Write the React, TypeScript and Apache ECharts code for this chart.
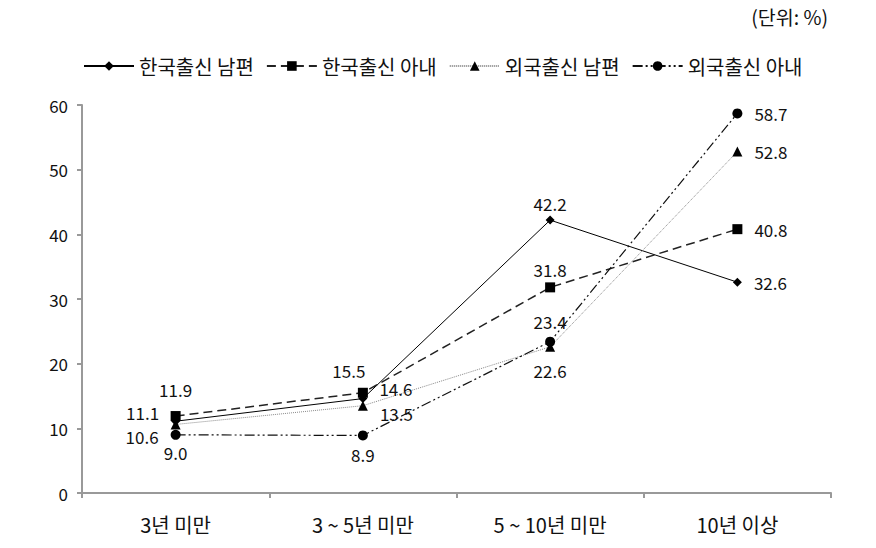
import React, { useEffect, useRef } from "react";
import * as echarts from "echarts";

const categories = ["3년 미만", "3 ~ 5년 미만", "5 ~ 10년 미만", "10년 이상"];
const seriesNames = ["한국출신 남편", "한국출신 아내", "외국출신 남편", "외국출신 아내"];
const koreanHusband = [11.1, 14.6, 42.2, 32.6];
const koreanWife = [11.9, 15.5, 31.8, 40.8];
const foreignHusband = [10.6, 13.5, 22.6, 52.8];
const foreignWife = [9.0, 8.9, 23.4, 58.7];
const yTicks = { min: 0, max: 60, interval: 10 };

const FONT = "'Noto Sans CJK KR', 'Noto Sans', sans-serif";

type LP = { position: any; offset?: number[]; distance?: number };

const khPos: LP[] = [
  { position: "left", offset: [0, -9], distance: 12 },
  { position: "right", offset: [0, -10], distance: 12 },
  { position: "top", distance: 4 },
  { position: "right", distance: 12 },
];
const kwPos: LP[] = [
  { position: "top", offset: [0, -8], distance: 5 },
  { position: "top", offset: [-14, -4], distance: 5 },
  { position: "top", distance: 4 },
  { position: "right", distance: 12 },
];
const fhPos: LP[] = [
  { position: "left", offset: [0, 12], distance: 12 },
  { position: "right", offset: [0, 8], distance: 12 },
  { position: "bottom", offset: [0, 4], distance: 6 },
  { position: "right", distance: 12 },
];
const fwPos: LP[] = [
  { position: "bottom", offset: [0, 0], distance: 4 },
  { position: "bottom", distance: 6 },
  { position: "top", offset: [0, -2], distance: 5 },
  { position: "right", distance: 12 },
];

function buildData(values: number[], pos: LP[]) {
  return values.map((v, i) => ({
    value: v,
    label: {
      show: true,
      position: pos[i].position,
      offset: pos[i].offset || [0, 0],
      distance: pos[i].distance ?? 5,
      formatter: (p: any) => Number(p.value).toFixed(1),
    },
  }));
}

export default function App() {
  const ref = useRef<HTMLDivElement>(null);
  useEffect(() => {
    document.body.style.margin = "0";
    if (!ref.current) return;
    const chart = echarts.init(ref.current, null, { renderer: "svg" });
    const labelStyle = { fontFamily: FONT, fontSize: 17, color: "#111" };
    const mk = (
      name: string,
      values: number[],
      pos: LP[],
      symbol: string,
      symbolSize: number,
      lineStyle: any
    ) => ({
      name,
      type: "line",
      data: buildData(values, pos),
      symbol,
      symbolSize,
      itemStyle: { color: "#000" },
      lineStyle,
      label: { ...labelStyle },
      z: 3,
    });
    chart.setOption({
      animation: false,
      backgroundColor: "#fff",
      textStyle: { fontFamily: FONT },
      title: {
        text: "(단위: %)",
        right: 48,
        top: 7,
        padding: 0,
        textStyle: { fontFamily: FONT, fontSize: 19.5, fontWeight: "normal", color: "#111" },
      },
      legend: {
        left: 83,
        top: 56,
        padding: 0,
        itemWidth: 50,
        itemHeight: 12,
        itemGap: 12,
        textStyle: { fontFamily: FONT, fontSize: 20, color: "#111" },
        data: seriesNames,
      },
      grid: { left: 82, right: 45, top: 105, bottom: 55, containLabel: false },
      xAxis: {
        type: "category",
        data: categories,
        boundaryGap: true,
        axisLine: { lineStyle: { color: "#999", width: 2 } },
        axisTick: { show: true, length: 5, lineStyle: { color: "#999", width: 2 } },
        axisLabel: { fontFamily: FONT, fontSize: 20, color: "#111", margin: 21 },
      },
      yAxis: {
        type: "value",
        min: yTicks.min,
        max: yTicks.max,
        interval: yTicks.interval,
        axisLine: { show: true, lineStyle: { color: "#999", width: 2 } },
        axisTick: { show: true, length: 5, lineStyle: { color: "#999", width: 2 } },
        splitLine: { show: false },
        axisLabel: { fontFamily: FONT, fontSize: 17, color: "#111", margin: 14 },
      },
      series: [
        mk(seriesNames[0], koreanHusband, khPos, "diamond", 9, { color: "#000", width: 1, type: "solid" }),
        mk(seriesNames[1], koreanWife, kwPos, "rect", 10, { color: "#222", width: 1.5, type: [9, 5] }),
        mk(seriesNames[2], foreignHusband, fhPos, "triangle", 10, { color: "#888", width: 1, type: [1, 1] }),
        mk(seriesNames[3], foreignWife, fwPos, "circle", 10, { color: "#111", width: 1.2, type: [10, 3, 2, 3, 2, 3] }),
      ],
    });
    return () => chart.dispose();
  }, []);
  return <div ref={ref} style={{ width: 876, height: 548 }} />;
}
